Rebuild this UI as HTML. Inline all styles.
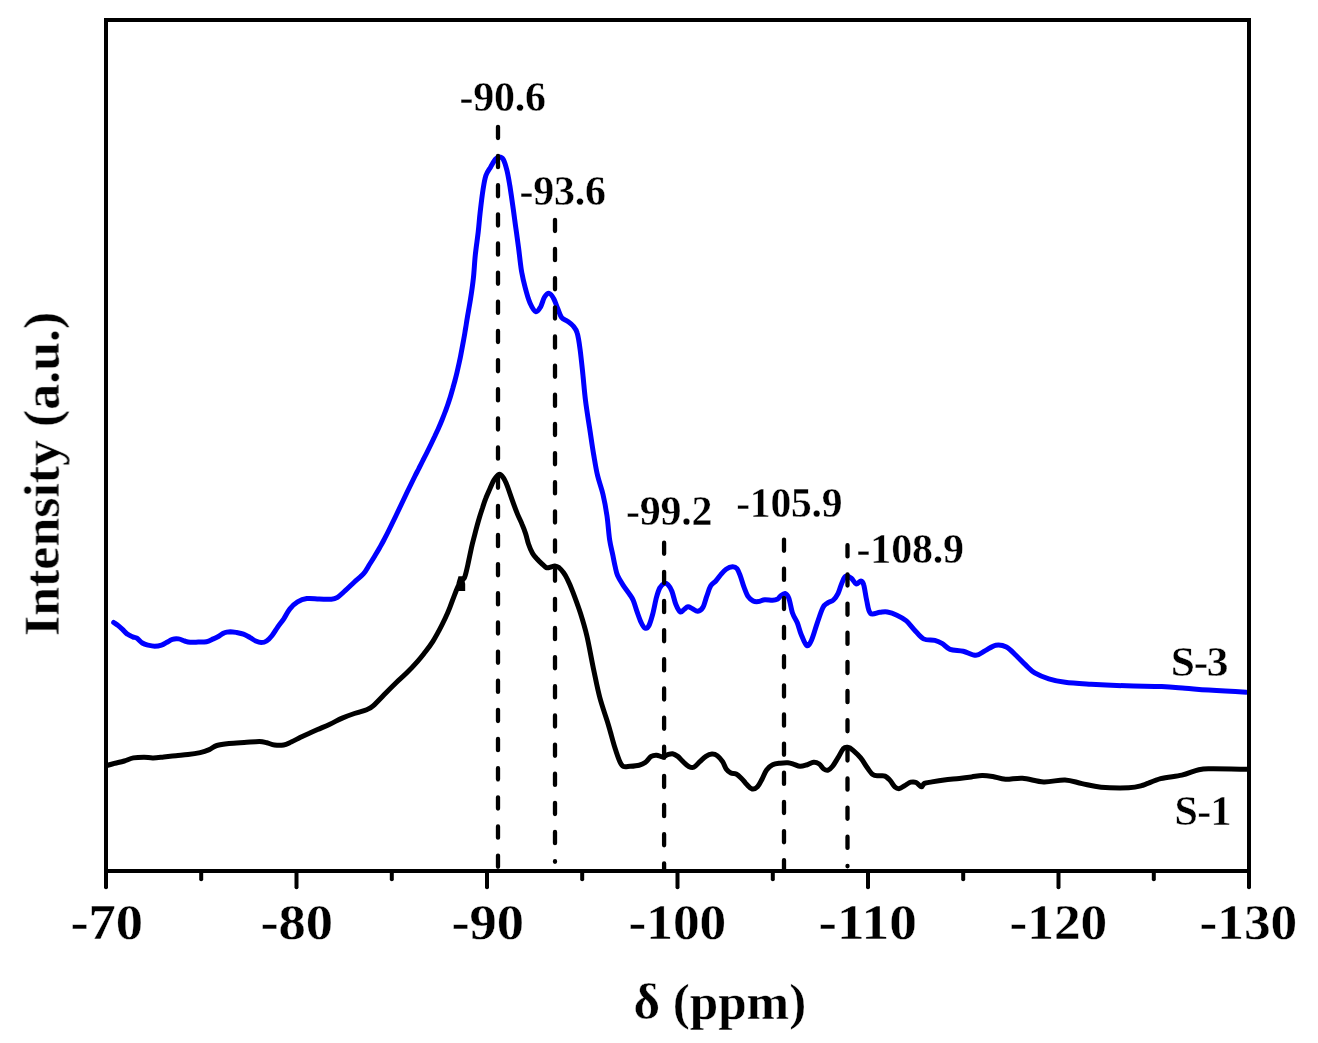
<!DOCTYPE html>
<html><head><meta charset="utf-8"><style>
html,body{margin:0;padding:0;background:#fff;}
body{width:1318px;height:1043px;overflow:hidden;}
svg{display:block;}
text{font-family:"Liberation Serif",serif;font-weight:bold;fill:#000;stroke:#fff;stroke-width:0.35px;}
.tk{stroke:#000;stroke-width:4;stroke-linecap:round;}
.dash{stroke:#000;stroke-width:4.3;stroke-dasharray:11.2 17.95;stroke-linecap:round;}
.cv{fill:none;stroke-width:5;stroke-linejoin:round;stroke-linecap:round;}
</style></head><body>
<svg width="1318" height="1043" viewBox="0 0 1318 1043">
<g style="filter:grayscale(1)"><text transform="translate(70.40,938.80) scale(1.0590,1)" style="font-size:51.50px;letter-spacing:0.00px">-70</text><text transform="translate(260.40,938.80) scale(1.0590,1)" style="font-size:51.50px;letter-spacing:0.00px">-80</text><text transform="translate(451.40,938.80) scale(1.0590,1)" style="font-size:51.50px;letter-spacing:0.00px">-90</text><text transform="translate(628.50,938.80) scale(1.0360,1)" style="font-size:51.50px;letter-spacing:0.00px">-100</text><text transform="translate(818.50,938.80) scale(1.0750,1)" style="font-size:51.50px;letter-spacing:0.00px">-110</text><text transform="translate(1009.50,938.80) scale(1.0360,1)" style="font-size:51.50px;letter-spacing:0.00px">-120</text><text transform="translate(1199.50,938.80) scale(1.0360,1)" style="font-size:51.50px;letter-spacing:0.00px">-130</text><text transform="translate(459.40,111.00) scale(0.9850,1)" style="font-size:42.60px;letter-spacing:-0.20px">-90.6</text><text transform="translate(519.40,204.60) scale(0.9850,1)" style="font-size:42.60px;letter-spacing:-0.20px">-93.6</text><text transform="translate(626.00,524.60) scale(0.9850,1)" style="font-size:42.60px;letter-spacing:-0.20px">-99.2</text><text transform="translate(736.20,516.60) scale(0.9750,1)" style="font-size:42.60px;letter-spacing:-0.20px">-105.9</text><text transform="translate(856.60,563.00) scale(0.9850,1)" style="font-size:42.60px;letter-spacing:-0.20px">-108.9</text><text transform="translate(1170.80,676.00) scale(1.0200,1)" style="font-size:42.60px;letter-spacing:-1.30px">S-3</text><text transform="translate(1174.40,825.00) scale(0.9850,1)" style="font-size:42.60px;letter-spacing:-0.60px">S-1</text><text transform="translate(633.40,1018.50) scale(0.9991,1)" style="font-size:51.16px;letter-spacing:0.00px">δ (ppm)</text><text transform="translate(58.70,636.00) rotate(-90) scale(1.0321,1)" style="font-size:50.28px;letter-spacing:0.00px">Intensity (a.u.)</text></g>
<path class="cv" stroke="#0000ff" d="M113.7 622.5 C114.4 623.0 116.3 624.1 117.8 625.3 C119.3 626.4 120.9 627.9 122.5 629.4 C124.1 630.9 125.6 632.9 127.3 634.1 C129.0 635.4 131.2 636.2 132.8 636.9 C134.4 637.6 135.3 637.2 136.9 638.2 C138.5 639.2 140.5 641.9 142.3 643.0 C144.1 644.1 145.8 644.6 147.8 645.1 C149.9 645.6 152.3 646.2 154.6 646.2 C156.9 646.2 159.4 645.8 161.5 645.1 C163.6 644.5 165.1 643.3 166.9 642.3 C168.7 641.3 170.5 639.9 172.4 639.3 C174.3 638.7 176.4 638.6 178.5 638.9 C180.6 639.2 182.8 640.4 184.7 641.0 C186.6 641.6 187.8 642.1 190.1 642.3 C192.4 642.5 195.6 642.2 198.3 642.1 C201.0 642.0 204.0 642.2 206.5 641.7 C209.0 641.2 211.3 639.8 213.4 638.9 C215.5 638.0 217.0 637.2 218.8 636.2 C220.6 635.2 222.4 633.5 224.3 632.8 C226.2 632.0 228.4 631.8 230.4 631.7 C232.4 631.7 234.4 632.1 236.6 632.5 C238.8 632.9 241.1 633.2 243.4 634.1 C245.7 635.0 248.1 636.5 250.2 637.6 C252.2 638.8 253.9 640.2 255.7 641.0 C257.5 641.8 259.4 642.6 261.2 642.6 C263.0 642.6 264.8 642.2 266.6 641.0 C268.4 639.8 270.3 637.8 272.1 635.5 C273.9 633.2 275.6 630.1 277.5 627.3 C279.4 624.5 281.7 621.9 283.8 618.8 C285.9 615.7 287.6 611.6 289.9 608.8 C292.2 606.0 294.8 603.6 297.6 601.9 C300.4 600.2 303.2 599.1 306.8 598.6 C310.4 598.1 315.0 598.8 319.1 598.9 C323.2 599.0 328.2 599.6 331.3 599.3 C334.4 599.0 335.2 598.7 337.5 597.3 C339.8 595.9 342.4 593.2 345.2 590.7 C348.0 588.2 351.3 584.9 354.4 582.0 C357.5 579.1 361.0 576.6 363.6 573.6 C366.2 570.6 367.9 566.9 369.8 564.0 C371.7 561.1 373.2 558.7 374.8 556.0 C376.4 553.3 378.0 550.7 379.5 548.0 C381.0 545.3 382.5 542.7 383.9 540.0 C385.3 537.3 386.7 534.7 388.0 532.0 C389.3 529.3 390.6 526.7 391.9 524.0 C393.2 521.3 394.5 518.7 395.8 516.0 C397.1 513.3 398.3 510.7 399.6 508.0 C400.9 505.3 402.1 502.7 403.4 500.0 C404.7 497.3 405.9 494.7 407.2 492.0 C408.5 489.3 409.8 486.7 411.1 484.0 C412.4 481.3 413.7 478.7 415.0 476.0 C416.3 473.3 417.8 470.7 419.1 468.0 C420.5 465.3 421.8 462.7 423.1 460.0 C424.5 457.3 425.9 454.7 427.2 452.0 C428.5 449.3 429.8 446.7 431.1 444.0 C432.4 441.3 433.6 438.7 434.9 436.0 C436.1 433.3 437.4 430.7 438.6 428.0 C439.8 425.3 440.9 422.7 442.0 420.0 C443.1 417.3 444.1 414.7 445.1 412.0 C446.1 409.3 447.1 406.7 448.0 404.0 C448.9 401.3 449.8 398.7 450.6 396.0 C451.4 393.3 452.1 390.7 452.9 388.0 C453.6 385.3 454.4 382.7 455.1 380.0 C455.8 377.3 456.5 374.7 457.1 372.0 C457.7 369.3 458.3 366.7 458.9 364.0 C459.5 361.3 460.1 358.7 460.6 356.0 C461.1 353.3 461.6 350.7 462.1 348.0 C462.6 345.3 463.1 342.7 463.6 340.0 C464.1 337.3 464.6 334.7 465.0 332.0 C465.4 329.3 465.9 326.7 466.3 324.0 C466.7 321.3 466.9 320.1 467.6 316.0 C468.3 311.9 469.5 305.5 470.5 299.2 C471.5 292.9 472.6 285.5 473.4 278.1 C474.2 270.8 474.5 262.8 475.3 255.1 C476.1 247.4 477.4 239.1 478.2 232.1 C479.0 225.1 479.3 219.9 480.1 212.9 C480.9 205.9 482.0 196.1 483.0 189.9 C484.0 183.7 484.6 179.3 485.9 175.5 C487.2 171.7 489.1 169.6 490.7 166.9 C492.3 164.2 494.1 160.9 495.5 159.2 C496.9 157.5 498.0 156.9 499.3 156.9 C500.6 156.9 501.9 156.9 503.2 159.2 C504.5 161.5 505.9 166.2 507.0 170.7 C508.1 175.2 508.9 180.2 509.9 186.0 C510.8 191.8 511.8 198.5 512.7 205.2 C513.7 211.9 514.6 219.3 515.6 226.3 C516.6 233.3 517.5 240.1 518.5 247.4 C519.5 254.8 520.3 263.7 521.4 270.4 C522.5 277.1 523.8 282.3 525.2 287.7 C526.6 293.1 528.2 299.0 530.0 303.0 C531.8 307.0 534.0 311.1 535.8 311.7 C537.6 312.3 539.2 309.3 540.6 306.9 C542.0 304.5 543.0 299.6 544.4 297.3 C545.8 295.1 547.6 293.1 549.2 293.4 C550.8 293.7 552.6 296.6 554.0 299.2 C555.4 301.8 556.5 305.8 557.8 308.8 C559.1 311.8 560.0 315.3 561.6 317.4 C563.2 319.5 565.5 319.8 567.4 321.2 C569.3 322.6 571.6 324.0 573.2 326.0 C574.8 328.0 576.1 329.1 577.2 333.0 C578.4 336.9 579.2 342.7 580.1 349.5 C581.0 356.3 581.9 365.2 582.8 373.7 C583.7 382.2 584.4 391.6 585.5 400.5 C586.6 409.4 588.1 418.4 589.5 427.4 C590.9 436.3 592.2 446.1 593.6 454.2 C595.0 462.2 596.0 469.0 597.6 475.7 C599.2 482.4 601.4 487.8 603.0 494.5 C604.6 501.2 605.9 508.4 607.0 516.0 C608.1 523.6 608.7 533.6 609.7 540.1 C610.7 546.6 611.9 550.5 612.8 555.0 C613.7 559.5 614.4 563.3 615.2 566.8 C616.0 570.3 616.4 572.8 617.7 575.8 C619.0 578.8 621.0 581.8 622.9 584.8 C624.8 587.8 627.6 591.3 629.3 593.9 C631.0 596.5 631.9 597.3 633.2 600.3 C634.5 603.3 635.8 608.2 637.1 611.9 C638.4 615.5 639.7 619.5 641.0 622.2 C642.3 624.9 643.5 627.4 644.8 628.0 C646.1 628.6 647.4 628.4 648.7 626.1 C650.0 623.9 651.3 619.2 652.6 614.5 C653.9 609.8 655.2 602.1 656.4 597.7 C657.6 593.3 658.4 590.4 659.7 588.0 C661.0 585.6 662.8 584.0 664.2 583.5 C665.6 583.0 666.7 583.5 668.0 584.8 C669.3 586.1 670.6 588.1 671.9 591.3 C673.2 594.5 674.4 600.8 675.8 604.2 C677.2 607.6 678.9 611.0 680.3 611.9 C681.7 612.8 682.9 610.1 684.2 609.3 C685.5 608.4 686.6 606.9 688.0 606.8 C689.4 606.7 690.9 608.0 692.5 608.7 C694.1 609.5 696.0 611.5 697.7 611.3 C699.4 611.1 701.4 609.9 702.9 607.4 C704.4 604.9 705.4 599.9 706.7 596.4 C708.0 592.9 709.1 588.7 710.6 586.1 C712.1 583.5 714.1 582.9 715.8 581.0 C717.5 579.1 719.2 576.5 720.9 574.5 C722.6 572.5 724.2 570.6 726.1 569.3 C728.0 568.0 730.7 566.9 732.5 566.8 C734.3 566.7 735.7 567.2 737.0 568.7 C738.3 570.2 739.1 572.7 740.3 575.8 C741.5 578.9 742.8 584.0 744.1 587.4 C745.4 590.8 746.5 594.1 748.0 596.4 C749.5 598.7 751.5 600.1 753.2 601.0 C754.9 601.9 756.4 601.8 758.3 601.6 C760.2 601.4 762.4 599.9 764.8 599.7 C767.2 599.5 770.4 600.4 772.5 600.3 C774.6 600.2 776.4 599.7 777.7 599.0 C779.0 598.3 779.1 597.1 780.3 596.2 C781.5 595.3 783.6 593.1 785.0 593.4 C786.4 593.7 787.5 594.8 788.8 598.1 C790.1 601.4 791.2 609.2 792.6 613.3 C794.0 617.4 795.9 619.3 797.3 622.8 C798.7 626.3 799.5 630.4 801.1 634.2 C802.7 638.0 805.0 644.5 806.8 645.5 C808.5 646.5 809.9 643.7 811.6 639.9 C813.4 636.1 815.4 628.2 817.3 622.8 C819.2 617.4 821.2 610.9 822.9 607.6 C824.6 604.3 826.0 604.2 827.7 602.9 C829.5 601.6 831.7 601.6 833.4 600.0 C835.1 598.4 836.7 596.2 838.1 593.4 C839.5 590.5 840.6 585.8 841.9 582.9 C843.2 580.0 844.1 577.1 845.7 576.3 C847.3 575.5 849.7 576.9 851.4 578.2 C853.1 579.5 854.5 583.4 856.1 583.9 C857.7 584.4 859.6 580.9 860.9 581.0 C862.2 581.1 862.8 581.6 863.7 584.8 C864.7 588.0 865.5 595.2 866.6 600.0 C867.7 604.8 868.2 611.2 870.4 613.3 C872.6 615.3 877.0 612.5 879.8 612.3 C882.6 612.1 884.5 611.5 887.4 612.0 C890.2 612.5 893.7 613.7 896.9 615.2 C900.1 616.7 903.5 618.5 906.4 620.9 C909.2 623.3 911.1 626.4 914.0 629.4 C916.9 632.4 920.0 637.1 923.5 638.9 C927.0 640.7 931.8 639.6 934.9 640.4 C938.0 641.2 939.9 642.1 942.4 643.6 C944.9 645.1 946.5 648.0 950.0 649.3 C953.5 650.6 959.0 650.2 963.3 651.2 C967.6 652.2 972.2 655.4 975.9 655.3 C979.6 655.2 982.0 652.3 985.3 650.6 C988.6 648.9 992.4 645.8 995.9 645.2 C999.4 644.6 1003.1 645.3 1006.4 647.0 C1009.7 648.7 1012.8 652.3 1015.9 655.3 C1019.0 658.2 1022.2 661.8 1025.3 664.7 C1028.4 667.6 1030.8 670.5 1034.7 672.9 C1038.6 675.2 1043.7 677.2 1048.8 678.8 C1053.9 680.4 1058.2 681.4 1065.2 682.3 C1072.2 683.2 1080.9 683.6 1091.1 684.2 C1101.3 684.8 1114.6 685.4 1126.4 685.8 C1138.2 686.2 1151.9 686.1 1161.7 686.5 C1171.5 686.9 1177.4 687.6 1185.2 688.2 C1193.0 688.8 1198.5 689.4 1208.7 690.1 C1218.9 690.8 1240.0 691.9 1246.3 692.2"/>
<path class="cv" stroke="#000" d="M106.8 765.5 C108.2 765.1 112.3 764.0 115.2 763.2 C118.1 762.5 121.3 761.9 124.3 761.0 C127.3 760.1 130.1 758.5 133.4 757.9 C136.7 757.3 140.7 757.2 144.0 757.2 C147.3 757.2 149.8 758.0 153.1 757.9 C156.4 757.8 159.9 757.3 163.7 756.9 C167.5 756.5 171.8 756.1 175.9 755.7 C180.0 755.3 183.9 755.1 188.0 754.6 C192.1 754.1 196.6 753.4 200.2 752.6 C203.8 751.8 206.5 750.8 209.3 749.6 C212.1 748.4 213.5 746.5 216.8 745.5 C220.1 744.5 224.4 744.0 229.0 743.5 C233.6 743.0 239.1 742.8 244.2 742.5 C249.2 742.2 255.5 741.5 259.3 741.5 C263.1 741.5 264.4 742.2 266.9 742.8 C269.4 743.4 271.7 744.6 274.5 745.0 C277.3 745.4 280.8 745.5 283.6 745.0 C286.4 744.5 288.5 743.2 291.2 742.0 C293.9 740.8 297.0 739.1 300.0 737.6 C303.0 736.1 306.4 734.6 309.3 733.3 C312.2 731.9 314.2 731.0 317.6 729.5 C321.0 728.0 325.8 726.1 329.9 724.2 C334.0 722.3 338.1 719.9 342.2 718.1 C346.3 716.3 350.3 714.9 354.4 713.5 C358.5 712.1 363.6 711.0 366.7 709.7 C369.8 708.4 370.0 708.5 373.1 705.8 C376.2 703.1 381.5 697.4 385.3 693.5 C389.1 689.6 392.5 686.2 396.1 682.7 C399.7 679.2 403.2 676.4 406.8 672.8 C410.4 669.2 414.5 664.8 417.6 661.3 C420.7 657.8 422.6 655.3 425.2 652.0 C427.8 648.7 430.6 644.9 432.9 641.3 C435.2 637.7 436.9 634.4 439.0 630.6 C441.1 626.8 443.4 622.1 445.2 618.3 C447.0 614.5 448.3 611.4 449.8 607.6 C451.3 603.8 453.0 598.9 454.4 595.3 C455.8 591.7 457.0 588.6 458.2 586.1 C459.4 583.6 460.7 582.0 461.8 580.5 C462.9 579.0 463.6 580.2 464.6 577.4 C465.7 574.6 467.0 568.6 468.1 563.6 C469.2 558.6 470.4 552.4 471.5 547.4 C472.6 542.4 473.9 538.0 475.0 533.6 C476.1 529.2 477.2 525.2 478.4 521.0 C479.6 516.8 481.1 512.1 482.4 508.3 C483.6 504.5 484.6 501.2 485.9 498.0 C487.1 494.8 488.6 491.8 489.9 488.8 C491.2 485.8 492.4 482.5 493.9 480.1 C495.4 477.7 497.6 474.9 499.1 474.4 C500.6 473.9 501.9 475.7 503.1 477.3 C504.4 478.9 505.5 481.7 506.6 484.2 C507.7 486.7 508.4 488.9 509.5 492.2 C510.6 495.4 512.2 500.0 513.5 503.7 C514.8 507.4 516.1 510.7 517.5 514.1 C518.9 517.6 520.8 521.1 522.1 524.4 C523.5 527.6 524.5 530.3 525.6 533.6 C526.7 536.9 527.4 540.7 528.5 544.0 C529.6 547.3 531.1 550.7 532.5 553.2 C533.9 555.7 535.6 557.3 537.1 559.0 C538.6 560.7 540.2 562.2 541.7 563.6 C543.2 565.0 544.8 567.0 546.3 567.6 C547.8 568.2 549.5 567.3 550.9 567.0 C552.3 566.7 553.5 565.8 554.9 565.9 C556.2 566.0 557.5 566.5 559.0 567.6 C560.5 568.8 562.3 571.0 563.6 572.8 C564.9 574.6 565.6 575.6 567.0 578.5 C568.4 581.4 570.0 584.5 572.2 590.3 C574.4 596.1 578.0 605.5 580.4 613.1 C582.8 620.7 584.7 626.8 586.9 636.0 C589.1 645.2 591.2 658.2 593.4 668.5 C595.6 678.8 597.4 688.7 599.9 697.9 C602.4 707.1 605.6 715.8 608.1 723.9 C610.6 732.0 612.6 740.4 614.6 746.7 C616.6 753.1 618.5 758.7 620.0 762.0 C621.5 765.3 621.8 765.8 623.5 766.5 C625.2 767.2 627.4 766.5 630.0 766.3 C632.6 766.1 636.6 765.8 639.1 765.2 C641.6 764.6 643.2 764.0 645.2 762.5 C647.2 761.0 649.3 757.6 651.2 756.4 C653.1 755.2 654.7 755.1 656.6 755.2 C658.5 755.3 660.8 757.0 662.6 756.9 C664.4 756.8 665.6 755.4 667.2 754.9 C668.9 754.4 670.7 753.5 672.5 753.7 C674.3 754.0 676.0 755.1 677.8 756.4 C679.6 757.7 681.3 760.1 683.1 761.7 C684.9 763.4 686.6 765.4 688.4 766.3 C690.2 767.2 691.8 768.1 693.7 767.3 C695.6 766.5 697.8 763.5 699.8 761.7 C701.8 759.9 703.9 757.7 705.9 756.4 C707.9 755.1 710.0 754.2 711.9 754.1 C713.8 754.0 715.5 754.4 717.3 755.7 C719.1 757.0 721.1 759.4 722.6 761.7 C724.1 764.0 725.0 767.4 726.4 769.3 C727.8 771.2 729.3 772.3 730.9 773.1 C732.5 773.9 734.4 773.0 736.2 773.9 C738.0 774.8 739.7 776.6 741.5 778.4 C743.3 780.2 745.0 782.7 746.8 784.5 C748.6 786.3 750.4 788.6 752.2 789.0 C754.0 789.4 755.9 788.4 757.5 786.8 C759.1 785.2 760.5 782.0 762.0 779.2 C763.5 776.4 764.8 772.5 766.6 770.1 C768.4 767.7 770.3 765.9 772.6 764.8 C774.9 763.6 777.7 763.5 780.2 763.2 C782.7 762.9 785.5 762.6 787.8 762.8 C790.1 763.0 791.9 763.7 793.9 764.3 C795.9 764.9 797.9 766.2 800.0 766.3 C802.1 766.4 804.1 765.7 806.4 765.0 C808.7 764.3 811.6 762.4 813.7 762.2 C815.9 762.0 817.6 762.9 819.3 764.0 C821.0 765.1 822.3 768.0 823.8 769.0 C825.3 770.0 826.6 770.6 828.1 770.1 C829.6 769.6 831.0 768.3 832.6 766.3 C834.2 764.3 836.1 760.8 837.9 757.9 C839.7 755.0 841.6 750.6 843.2 748.8 C844.9 747.0 846.1 747.0 847.8 747.3 C849.4 747.5 851.0 748.5 853.1 750.3 C855.2 752.1 858.4 755.1 860.7 757.9 C863.0 760.7 864.8 764.2 866.8 767.0 C868.8 769.8 870.8 773.1 872.8 774.6 C874.8 776.1 876.9 775.5 878.9 775.8 C880.9 776.0 883.1 775.3 885.0 776.1 C886.9 776.9 888.7 778.9 890.3 780.7 C891.9 782.5 893.3 785.5 894.8 786.8 C896.3 788.1 897.8 788.8 899.4 788.6 C901.0 788.4 902.8 786.7 904.7 785.6 C906.6 784.5 908.9 782.7 910.8 782.2 C912.7 781.7 914.3 781.7 916.1 782.5 C917.9 783.3 920.0 786.6 921.4 786.8 C922.8 786.9 922.6 784.2 924.4 783.4 C926.2 782.6 928.7 782.5 932.0 781.9 C935.3 781.3 939.7 780.5 944.2 779.9 C948.8 779.3 954.8 778.9 959.3 778.4 C963.8 777.9 967.7 777.4 971.5 776.9 C975.3 776.4 978.6 775.6 982.1 775.5 C985.6 775.4 988.8 775.9 992.7 776.5 C996.6 777.1 1000.5 779.0 1005.5 779.3 C1010.5 779.6 1016.1 777.8 1022.5 778.2 C1028.9 778.6 1036.6 781.6 1043.7 781.9 C1050.8 782.2 1058.6 779.6 1065.0 779.9 C1071.4 780.2 1076.0 782.4 1082.0 783.6 C1088.0 784.8 1093.3 786.5 1101.1 787.2 C1108.9 787.9 1122.0 788.0 1128.7 787.8 C1135.4 787.5 1136.2 787.2 1141.5 785.7 C1146.8 784.2 1153.9 780.5 1160.6 778.7 C1167.3 776.9 1175.4 776.6 1181.8 775.1 C1188.2 773.6 1193.8 770.8 1198.8 769.7 C1203.8 768.6 1203.4 768.8 1211.6 768.7 C1219.8 768.6 1241.7 769.2 1247.7 769.3"/>
<polygon points="458,591 465.2,591 465.2,584 463.5,576.3 458.5,576.3 456.5,583" fill="#000"/>
<line x1="498.0" y1="126.85" x2="498.0" y2="869.0" class="dash"/><line x1="555.0" y1="219.85" x2="555.0" y2="861.8" class="dash"/><line x1="664.1" y1="542.65" x2="664.1" y2="869.0" class="dash"/><line x1="784.0" y1="539.55" x2="784.0" y2="869.0" class="dash"/><line x1="847.5" y1="545.25" x2="847.5" y2="866.3" class="dash"/>
<rect x="106" y="20" width="1143" height="851" fill="none" stroke="#000" stroke-width="4"/>
<line x1="106.0" y1="871" x2="106.0" y2="887.2" class="tk"/><line x1="296.5" y1="871" x2="296.5" y2="887.2" class="tk"/><line x1="487.0" y1="871" x2="487.0" y2="887.2" class="tk"/><line x1="677.5" y1="871" x2="677.5" y2="887.2" class="tk"/><line x1="868.0" y1="871" x2="868.0" y2="887.2" class="tk"/><line x1="1058.5" y1="871" x2="1058.5" y2="887.2" class="tk"/><line x1="1249.0" y1="871" x2="1249.0" y2="887.2" class="tk"/><line x1="201.2" y1="871" x2="201.2" y2="879.3" class="tk"/><line x1="391.8" y1="871" x2="391.8" y2="879.3" class="tk"/><line x1="582.2" y1="871" x2="582.2" y2="879.3" class="tk"/><line x1="772.8" y1="871" x2="772.8" y2="879.3" class="tk"/><line x1="963.2" y1="871" x2="963.2" y2="879.3" class="tk"/><line x1="1153.8" y1="871" x2="1153.8" y2="879.3" class="tk"/>
</svg>
</body></html>
